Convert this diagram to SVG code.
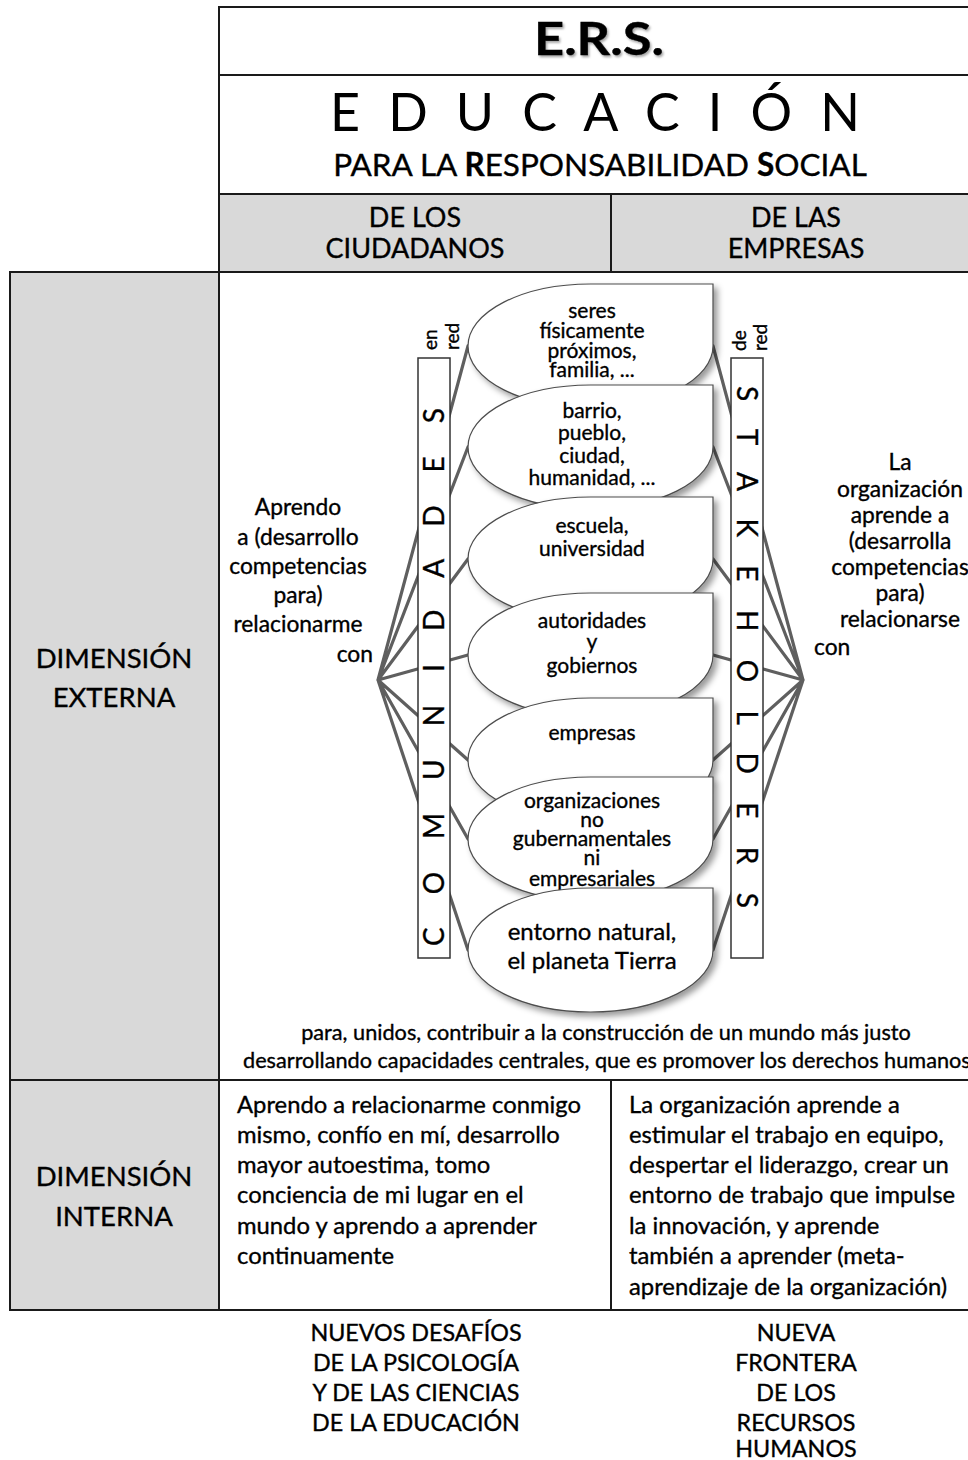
<svg xmlns="http://www.w3.org/2000/svg" width="968" height="1460" viewBox="0 0 968 1460">
  <defs>
    <filter id="shadow" x="-20%" y="-20%" width="150%" height="150%">
      <feDropShadow dx="4" dy="4" stdDeviation="3" flood-color="#000" flood-opacity="0.4"/>
    </filter>
    <filter id="soft" x="-10%" y="-10%" width="120%" height="130%">
      <feDropShadow dx="1.5" dy="2" stdDeviation="1.2" flood-color="#000" flood-opacity="0.35"/>
    </filter>
    <filter id="blurline" x="-10%" y="-10%" width="120%" height="120%">
      <feGaussianBlur stdDeviation="0.6"/>
    </filter>
    <style>
      text { font-family: Lato, "Open Sans", "Liberation Sans", sans-serif; fill: #000; stroke: #000; stroke-width: 0.35px; }
      .cell { fill: #fff; stroke: #1a1a1a; stroke-width: 2; }
      .gray { fill: #d9d9d9; stroke: #1a1a1a; stroke-width: 2; }
      .rule { stroke: #1a1a1a; stroke-width: 2; fill: none; }
      .bubble { fill: #fff; stroke: #4d4d4d; stroke-width: 1.2; filter: url(#shadow); }
      .bar { fill: #fff; stroke: #333; stroke-width: 1.5; }
      .link { stroke: #5f5f5f; stroke-width: 3.2; fill: none; stroke-linecap: round; filter: url(#blurline); }
      .mid { text-anchor: middle; }
      .b { font-size: 21px; }
      .lab { font-size: 22.8px; }
      .head { font-size: 27px; }
      .dim { font-size: 27.5px; }
      .para { font-size: 23.8px; }
      .foot { font-size: 23.3px; }
      .small { font-size: 19px; }
    </style>
  </defs>

  <!-- table frame -->
  <g id="table">
    <rect class="cell" x="219" y="7" width="752" height="187"/>
    <line class="rule" x1="219" y1="75" x2="971" y2="75"/>
    <rect class="gray" x="219" y="194" width="752" height="78"/>
    <line class="rule" x1="611" y1="194" x2="611" y2="272"/>
    <rect class="gray" x="10" y="272" width="209" height="1038"/>
    <rect class="cell" x="219" y="272" width="752" height="808"/>
    <rect class="cell" x="219" y="1080" width="752" height="230"/>
    <line class="rule" x1="10" y1="1080" x2="219" y2="1080"/>
    <line class="rule" x1="611" y1="1080" x2="611" y2="1310"/>
  </g>

  <!-- header titles -->
  <g id="title">
    <text class="mid" x="599" y="55" font-size="46" font-weight="bold" textLength="130" lengthAdjust="spacingAndGlyphs" filter="url(#soft)">E.R.S.</text>
    <text x="330" y="131" font-size="52" textLength="530" lengthAdjust="spacing" style="stroke-width:0">E D U C A C I Ó N</text>
    <text class="mid" x="600" y="176" font-size="31.5">PARA LA <tspan font-weight="bold">R</tspan>ESPONSABILIDAD <tspan font-weight="bold">S</tspan>OCIAL</text>
  </g>
  <g id="col-ciudadanos">
    <text class="mid head" x="415" y="227">DE LOS</text>
    <text class="mid head" x="415" y="258">CIUDADANOS</text>
  </g>
  <g id="col-empresas">
    <text class="mid head" x="796" y="227">DE LAS</text>
    <text class="mid head" x="796" y="258">EMPRESAS</text>
  </g>
  <g id="row-externa">
    <text class="mid dim" x="114" y="668">DIMENSIÓN</text>
    <text class="mid dim" x="114" y="707">EXTERNA</text>
  </g>
  <g id="row-interna">
    <text class="mid dim" x="114" y="1186">DIMENSIÓN</text>
    <text class="mid dim" x="114" y="1226">INTERNA</text>
  </g>

  <!-- connectors: two fans into the bubbles -->
  <g id="connectors">
    <path class="link" d="M378 680 L468 346 M378 680 L468 447 M378 680 L468 559 M378 680 L468 655 M378 680 L468 760 M378 680 L468 839 M378 680 L468 950"/>
    <path class="link" d="M803 680 L713 346 M803 680 L713 447 M803 680 L713 559 M803 680 L713 655 M803 680 L713 760 M803 680 L713 839 M803 680 L713 950"/>
  </g>

  <!-- vertical bars -->
  <g id="comunidades">
    <rect class="bar" x="418" y="358" width="32" height="600"/>
    <text transform="translate(444 946) rotate(-90)" font-size="28" textLength="538" lengthAdjust="spacing">C O M U N I D A D E S</text>
    <text transform="translate(437 350) rotate(-90)" class="small">en</text>
    <text transform="translate(459 350) rotate(-90)" class="small">red</text>
  </g>
  <g id="stakeholders">
    <rect class="bar" x="731" y="358" width="32" height="600"/>
    <text transform="translate(737 386) rotate(90)" font-size="28" textLength="522" lengthAdjust="spacing">S T A K E H O L D E R S</text>
    <text transform="translate(746 351) rotate(-90)" class="small">de</text>
    <text transform="translate(767 351) rotate(-90)" class="small">red</text>
  </g>

  <!-- bubbles -->
  <g id="n1">
    <path class="bubble" d="M590.5 284 L713 284 L713 346 A122.5 62 0 0 1 590.5 408 A122.5 62 0 0 1 468 346 A122.5 62 0 0 1 590.5 284 Z"/>
    <text class="mid b" x="592" y="318">seres</text>
    <text class="mid b" x="592" y="338">físicamente</text>
    <text class="mid b" x="592" y="358">próximos,</text>
    <text class="mid b" x="592" y="377">familia, ...</text>
  </g>
  <g id="n2">
    <path class="bubble" d="M590.5 385 L713 385 L713 447 A122.5 62 0 0 1 590.5 509 A122.5 62 0 0 1 468 447 A122.5 62 0 0 1 590.5 385 Z"/>
    <text class="mid b" x="592" y="418">barrio,</text>
    <text class="mid b" x="592" y="440">pueblo,</text>
    <text class="mid b" x="592" y="463">ciudad,</text>
    <text class="mid b" x="592" y="485">humanidad, ...</text>
  </g>
  <g id="n3">
    <path class="bubble" d="M590.5 497 L713 497 L713 559 A122.5 62 0 0 1 590.5 621 A122.5 62 0 0 1 468 559 A122.5 62 0 0 1 590.5 497 Z"/>
    <text class="mid b" x="592" y="533">escuela,</text>
    <text class="mid b" x="592" y="556">universidad</text>
  </g>
  <g id="n4">
    <path class="bubble" d="M590.5 593 L713 593 L713 655 A122.5 62 0 0 1 590.5 717 A122.5 62 0 0 1 468 655 A122.5 62 0 0 1 590.5 593 Z"/>
    <text class="mid b" x="592" y="628">autoridades</text>
    <text class="mid b" x="592" y="649">y</text>
    <text class="mid b" x="592" y="673">gobiernos</text>
  </g>
  <g id="n5">
    <path class="bubble" d="M590.5 698 L713 698 L713 760 A122.5 62 0 0 1 590.5 822 A122.5 62 0 0 1 468 760 A122.5 62 0 0 1 590.5 698 Z"/>
    <text class="mid b" x="592" y="740">empresas</text>
  </g>
  <g id="n6">
    <path class="bubble" d="M590.5 777 L713 777 L713 839 A122.5 62 0 0 1 590.5 901 A122.5 62 0 0 1 468 839 A122.5 62 0 0 1 590.5 777 Z"/>
    <text class="mid b" x="592" y="808">organizaciones</text>
    <text class="mid b" x="592" y="827">no</text>
    <text class="mid b" x="592" y="846">gubernamentales</text>
    <text class="mid b" x="592" y="865">ni</text>
    <text class="mid b" x="592" y="886">empresariales</text>
  </g>
  <g id="n7">
    <path class="bubble" d="M590.5 888 L713 888 L713 950 A122.5 62 0 0 1 590.5 1012 A122.5 62 0 0 1 468 950 A122.5 62 0 0 1 590.5 888 Z"/>
    <text class="mid" x="592" y="940" font-size="24">entorno natural,</text>
    <text class="mid" x="592" y="969" font-size="24">el planeta Tierra</text>
  </g>

  <!-- side captions -->
  <g id="caption-left">
    <text class="mid lab" x="298" y="515">Aprendo</text>
    <text class="mid lab" x="298" y="545">a (desarrollo</text>
    <text class="mid lab" x="298" y="574">competencias</text>
    <text class="mid lab" x="298" y="603">para)</text>
    <text class="mid lab" x="298" y="632">relacionarme</text>
    <text class="lab" x="373" y="662" text-anchor="end">con</text>
  </g>
  <g id="caption-right">
    <text class="mid lab" x="900" y="470">La</text>
    <text class="mid lab" x="900" y="497">organización</text>
    <text class="mid lab" x="900" y="523">aprende a</text>
    <text class="mid lab" x="900" y="549">(desarrolla</text>
    <text class="mid lab" x="900" y="575">competencias</text>
    <text class="mid lab" x="900" y="601">para)</text>
    <text class="mid lab" x="900" y="627">relacionarse</text>
    <text class="lab" x="814" y="655">con</text>
  </g>

  <g id="caption-bottom">
    <text class="mid" x="606" y="1040" font-size="21.7">para, unidos, contribuir a la construcción de un mundo más justo</text>
    <text x="243" y="1068" font-size="21.7">desarrollando capacidades centrales, que es promover los derechos humanos</text>
  </g>

  <!-- inner dimension -->
  <g id="interna-ciudadanos">
    <text class="para" x="237" y="1113">Aprendo a relacionarme conmigo</text>
    <text class="para" x="237" y="1143">mismo, confío en mí, desarrollo</text>
    <text class="para" x="237" y="1173">mayor autoestima, tomo</text>
    <text class="para" x="237" y="1203">conciencia de mi lugar en el</text>
    <text class="para" x="237" y="1234">mundo y aprendo a aprender</text>
    <text class="para" x="237" y="1264">continuamente</text>
  </g>
  <g id="interna-empresas">
    <text class="para" x="629" y="1113">La organización aprende a</text>
    <text class="para" x="629" y="1143">estimular el trabajo en equipo,</text>
    <text class="para" x="629" y="1173">despertar el liderazgo, crear un</text>
    <text class="para" x="629" y="1203">entorno de trabajo que impulse</text>
    <text class="para" x="629" y="1234">la innovación, y aprende</text>
    <text class="para" x="629" y="1264">también a aprender (meta-</text>
    <text class="para" x="629" y="1295">aprendizaje de la organización)</text>
  </g>

  <!-- footers -->
  <g id="footer-left">
    <text class="mid foot" x="416" y="1341">NUEVOS DESAFÍOS</text>
    <text class="mid foot" x="416" y="1371">DE LA PSICOLOGÍA</text>
    <text class="mid foot" x="416" y="1401">Y DE LAS CIENCIAS</text>
    <text class="mid foot" x="416" y="1431">DE LA EDUCACIÓN</text>
  </g>
  <g id="footer-right">
    <text class="mid foot" x="796" y="1341">NUEVA</text>
    <text class="mid foot" x="796" y="1371">FRONTERA</text>
    <text class="mid foot" x="796" y="1401">DE LOS</text>
    <text class="mid foot" x="796" y="1431">RECURSOS</text>
    <text class="mid foot" x="796" y="1457">HUMANOS</text>
  </g>
</svg>
